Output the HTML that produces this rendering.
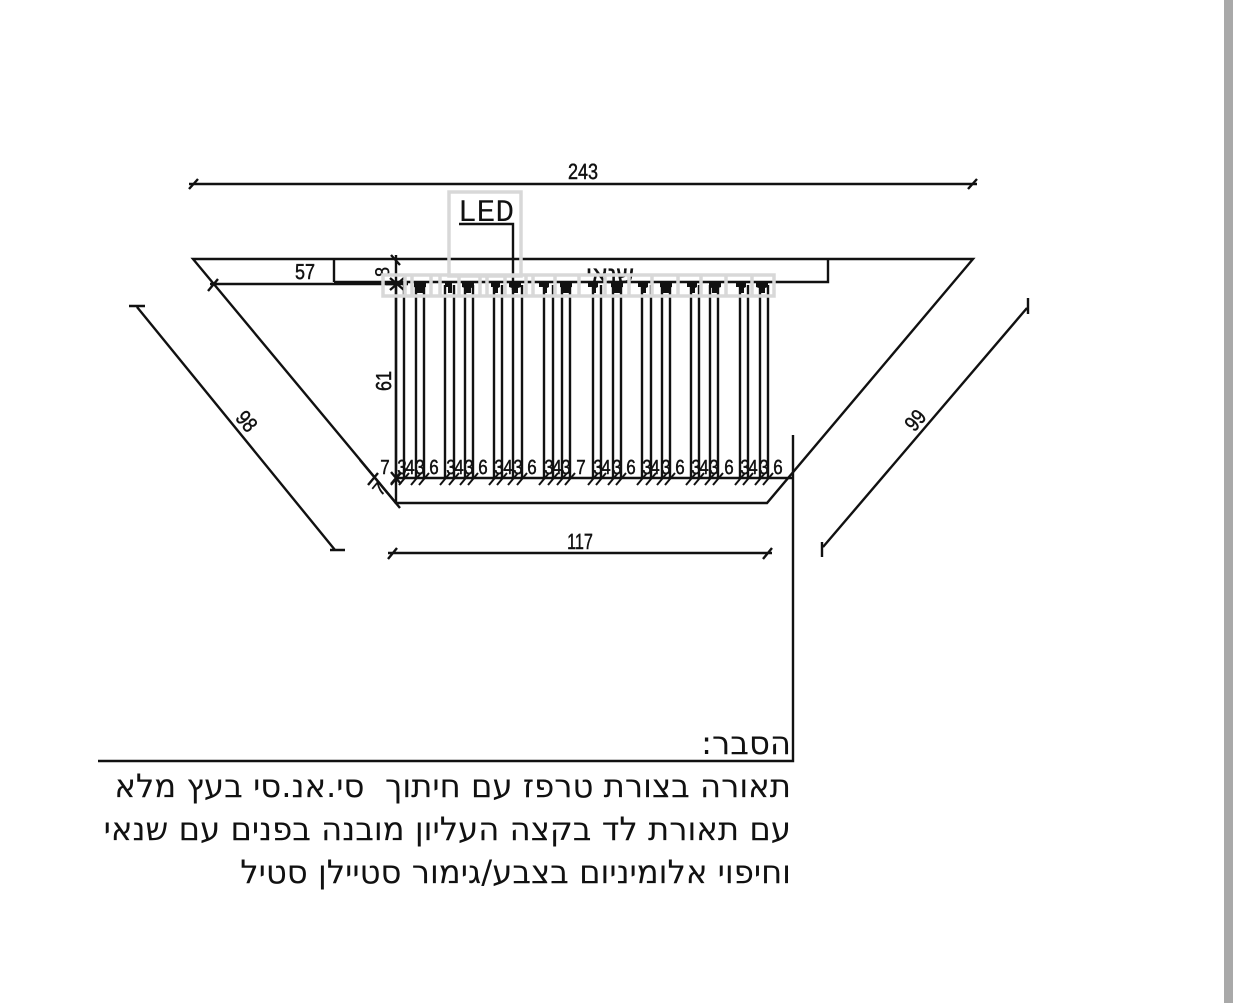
<!DOCTYPE html>
<html lang="he"><head><meta charset="utf-8"><title>Diagram</title>
<style>
html,body{margin:0;padding:0;background:#fff;width:1242px;height:1003px;overflow:hidden}
#w{position:relative;width:1242px;height:1003px;overflow:hidden;background:#fff}
#b{position:absolute;left:1224px;top:0;width:9px;height:1003px;background:#a9a9a9}
.t{position:absolute;right:451px;white-space:pre;direction:rtl;font:32.3px/43px "DejaVu Sans",sans-serif;color:#111}
svg{position:absolute;left:0;top:0}
svg text{font-family:"Liberation Sans",sans-serif;fill:#111;stroke:#111;stroke-width:.4;font-size:18px;text-anchor:middle;text-rendering:geometricPrecision}
</style></head><body><div id="w">
<svg width="1242" height="1003" viewBox="0 0 1242 1003">
<g fill="none" stroke="#111" stroke-width="2.4">
<path d="M193 259H973L767 503H396Z"/>
<path d="M334 282V260M334 282H828V260"/>
<path d="M189 184H977M189 189L198 179M968 189L977 179"/>
<path d="M210 284H398M208 291L218 279"/>
<path d="M396 255V504M391 255L400 265"/>
<path d="M396 478H793"/>
<path d="M368 485L378 473M360 460L400 508"/>
<path d="M137 307L335 550M129 306H145M330 550H345"/>
<path d="M1027 308L823 547M1028 298V314M822 542V557"/>
<path d="M388 553H772M388 559L397 548M763 559L772 548"/>
<path d="M793 435V761H98"/>
<path d="M459 224H513V290"/>
<path id="v" d="M396 285V478M404 285V478M416 285V478M424 285V478M445 285V478M454 285V478M465 285V478M473 285V478M494 285V478M502 285V478M513 285V478M522 285V478M544 285V478M553 285V478M562 285V478M570 285V478M593 285V478M601 285V478M613 285V478M621 285V478M642 285V478M651 285V478M662 285V478M670 285V478M691 285V478M699 285V478M710 285V478M718 285V478M740 285V478M748 285V478M760 285V478M768 285V478"/>
<path stroke-width="2" d="M391 485L401 473M399 485L409 473M411 485L421 473M419 485L429 473M440 485L450 473M449 485L459 473M460 485L470 473M468 485L478 473M489 485L499 473M497 485L507 473M508 485L518 473M517 485L527 473M539 485L549 473M548 485L558 473M557 485L567 473M565 485L575 473M588 485L598 473M596 485L606 473M608 485L618 473M616 485L626 473M637 485L647 473M646 485L656 473M657 485L667 473M665 485L675 473M686 485L696 473M694 485L704 473M705 485L715 473M713 485L723 473M735 485L745 473M743 485L753 473M755 485L765 473M763 485L773 473"/>
<path d="M386 284H408M390 278L404 290M390 290L404 278M391 484L401 472M391 472L401 484"/>
</g>
<text transform="translate(583 179) scale(1 1.22)">243</text>
<text transform="translate(305 279) scale(1 1.2)">57</text>
<text transform="translate(580 549) scale(.9 1.22)">117</text>
<text transform="translate(391 381) rotate(-90) scale(1 1.2)">61</text>
<text transform="translate(241 426) rotate(50) scale(1 1.2)">98</text>
<text transform="translate(921 425) rotate(-50) scale(1 1.2)">99</text>
<text transform="translate(389 272) rotate(-90) scale(1 1.1)">8</text>
<text transform="translate(384 493) rotate(-50)">7</text>
<text x="610" y="283" style="font-size:24px" direction="rtl">שנאי</text>
<g transform="translate(0 474) scale(1 1.2)">
<text style="font-size:17px" x="385">7</text><text style="font-size:17px" x="402">3</text><text style="font-size:17px" x="410">4</text><text style="font-size:17px" x="420">3</text><text style="font-size:17px" x="434">6</text>
<text style="font-size:17px" x="451">3</text><text style="font-size:17px" x="459">4</text><text style="font-size:17px" x="469">3</text><text style="font-size:17px" x="483">6</text>
<text style="font-size:17px" x="499">3</text><text style="font-size:17px" x="508">4</text><text style="font-size:17px" x="518">3</text><text style="font-size:17px" x="532">6</text>
<text style="font-size:17px" x="549">3</text><text style="font-size:17px" x="557">4</text><text style="font-size:17px" x="566">3</text><text style="font-size:17px" x="581">7</text>
<text style="font-size:17px" x="598">3</text><text style="font-size:17px" x="606">4</text><text style="font-size:17px" x="617">3</text><text style="font-size:17px" x="631">6</text>
<text style="font-size:17px" x="647">3</text><text style="font-size:17px" x="655">4</text><text style="font-size:17px" x="666">3</text><text style="font-size:17px" x="680">6</text>
<text style="font-size:17px" x="696">3</text><text style="font-size:17px" x="704">4</text><text style="font-size:17px" x="714">3</text><text style="font-size:17px" x="729">6</text>
<text style="font-size:17px" x="745">3</text><text style="font-size:17px" x="753">4</text><text style="font-size:17px" x="764">3</text><text style="font-size:17px" x="778">6</text>
</g>
<text transform="translate(486 221) scale(1 1.05)" style="font-size:30px;font-family:'Liberation Mono',monospace;stroke-width:0" textLength="56" lengthAdjust="spacingAndGlyphs">LED</text>
<g fill="none" stroke="#d8d8d8" stroke-width="3.5">
<rect x="449" y="192" width="72" height="84"/>
<rect x="383" y="275" width="391" height="21"/>
<path d="M405 275V296M412 275V296M431 275V296M440 275V296M459 275V296M480 275V296M487 275V296M505 275V296M526 275V296M533 275V296M555 275V296M579 275V296M605 275V296M629 275V296M652 275V296M678 275V296M701 275V296M726 275V296M752 275V296"/>
</g>
<g fill="#111">
<path d="M414 281h12v6l-3 1v5h-6v-5l-3-1z"/>
<path d="M445 281h7v12h-4v-6h-3z"/>
<path d="M462 281h12v6l-3 1v5h-6v-5l-3-1z"/>
<path d="M491 281h9v6l-2 1v5h-4v-6h-3z"/>
<path d="M509 281h12v6l-3 1v5h-6v-5l-3-1z"/>
<path d="M539 281h10v6l-2 1v5h-4v-6h-4z"/>
<path d="M560 281h12v6l-3 1v5h-6v-5l-3-1z"/>
<path d="M588 281h10v6l-2 1v5h-4v-6h-4z"/>
<path d="M611 281h12v6l-3 1v5h-6v-5l-3-1z"/>
<path d="M638 281h10v6l-2 1v5h-4v-6h-4z"/>
<path d="M660 281h12v6l-3 1v5h-6v-5l-3-1z"/>
<path d="M687 281h10v6l-2 1v5h-4v-6h-4z"/>
<path d="M709 281h12v6l-3 1v5h-6v-5l-3-1z"/>
<path d="M736 281h10v6l-2 1v5h-4v-6h-4z"/>
<path d="M756 281h12v6l-3 1v5h-6v-5l-3-1z"/>
</g>
</svg>
<div class="t" style="top:722px">הסבר:</div>
<div class="t" style="top:765px">תאורה בצורת טרפז עם חיתוך  סי.אנ.סי בעץ מלא</div>
<div class="t" style="top:808px">עם תאורת לד בקצה העליון מובנה בפנים עם שנאי</div>
<div class="t" style="top:851px">וחיפוי אלומיניום בצבע/גימור סטיילן סטיל</div>
<div id="b"></div>
</div></body></html>
